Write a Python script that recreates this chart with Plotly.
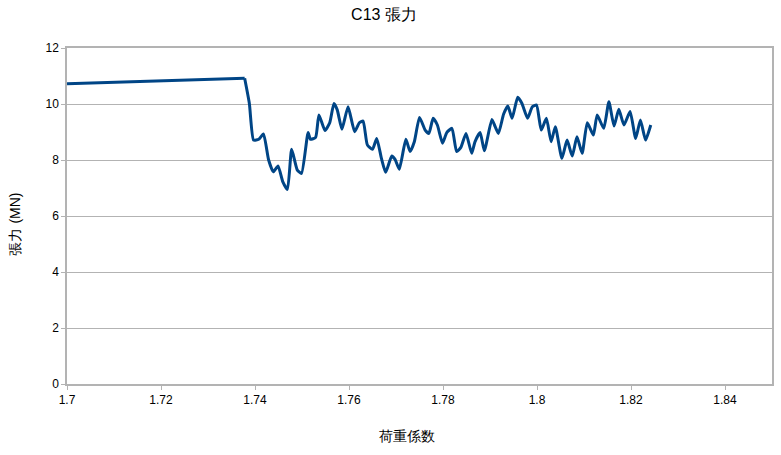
import plotly.graph_objects as go

# load factor (荷重係数) and tension (張力, MN)
load_factor = [
    1.7000, 1.7378, 1.7388, 1.7397, 1.7408, 1.7418, 1.7429, 1.7439, 1.7449,
    1.7459, 1.7469, 1.7478, 1.7490, 1.7499, 1.7513, 1.7518, 1.7529, 1.7536,
    1.7549, 1.7559, 1.7568, 1.7575, 1.7585, 1.7598, 1.7612, 1.7622, 1.7630,
    1.7639, 1.7650, 1.7659, 1.7669, 1.7678, 1.7691, 1.7698, 1.7707, 1.7721,
    1.7730, 1.7739, 1.7750, 1.7762, 1.7770, 1.7779, 1.7788, 1.7799, 1.7808,
    1.7819, 1.7829, 1.7838, 1.7849, 1.7861, 1.7868, 1.7879, 1.7888, 1.7904,
    1.7911, 1.7918, 1.7929, 1.7938, 1.7947, 1.7959, 1.7968, 1.7980, 1.7990,
    1.7999, 1.8009, 1.8020, 1.8030, 1.8039, 1.8053, 1.8064, 1.8075, 1.8085,
    1.8096, 1.8107, 1.8120, 1.8128, 1.8142, 1.8153, 1.8164, 1.8174, 1.8185,
    1.8198, 1.8210, 1.8220, 1.8231, 1.8242,
]
tension = [
    10.72, 10.92, 10.02, 8.71, 8.74, 8.93, 8.00, 7.58, 7.79,
    7.23, 6.95, 8.38, 7.64, 7.52, 8.98, 8.74, 8.81, 9.61,
    9.05, 9.33, 10.02, 9.79, 9.10, 9.90, 9.01, 9.33, 9.39,
    8.54, 8.38, 8.77, 8.06, 7.56, 8.14, 8.02, 7.67, 8.74,
    8.30, 8.65, 9.52, 9.07, 8.95, 9.49, 9.25, 8.60, 8.98,
    9.13, 8.30, 8.45, 8.95, 8.24, 8.65, 8.98, 8.33, 9.45,
    9.19, 8.95, 9.64, 9.93, 9.49, 10.24, 10.02, 9.49, 9.90,
    9.96, 9.07, 9.49, 8.65, 9.19, 8.06, 8.71, 8.14, 8.83,
    8.24, 9.33, 8.89, 9.61, 9.13, 10.08, 9.21, 9.81, 9.25,
    9.73, 8.77, 9.43, 8.71, 9.25,
]
x_ticks = [1.7, 1.72, 1.74, 1.76, 1.78, 1.8, 1.82, 1.84]
x_tick_labels = ["1.7", "1.72", "1.74", "1.76", "1.78", "1.8", "1.82", "1.84"]

W, H = 781, 455
M = dict(l=67, r=9, t=48, b=71)
LINE = "#004586"

fig = go.Figure()

# long straight lead-in, then the oscillating part drawn smoothed
fig.add_scatter(
    x=load_factor[:2],
    y=tension[:2],
    mode="lines",
    line=dict(color=LINE, width=3),
    showlegend=False,
    hoverinfo="skip"
)
fig.add_scatter(
    x=load_factor[1:],
    y=tension[1:],
    mode="lines",
    line=dict(color=LINE, width=3, shape="spline", smoothing=0.5),
    showlegend=False,
    hoverinfo="skip"
)

axis_style = dict(
    showline=True,
    linecolor="#b3b3b3",
    linewidth=1.5,
    mirror=True,
    ticks="outside",
    ticklen=4,
    tickcolor="#b3b3b3",
    zeroline=False,
    automargin=False,
    tickfont=dict(size=12, color="#000000")
)

# axis titles sit a little off-centre in the original, so place them by hand
pw = W - M["l"] - M["r"]
ph = H - M["t"] - M["b"]
fig.add_annotation(
    text="荷重係数",
    xref="paper", yref="paper",
    x=(407 - M["l"]) / pw,
    y=-(435.5 - (H - M["b"])) / ph,
    showarrow=False,
    xanchor="center", yanchor="middle",
    font=dict(size=14, color="#000000")
)
fig.add_annotation(
    text="張力 (MN)",
    xref="paper", yref="paper",
    x=-(M["l"] - 14) / pw,
    y=((H - M["b"]) - 224.5) / ph,
    textangle=-90,
    showarrow=False,
    xanchor="center", yanchor="middle",
    font=dict(size=14, color="#000000")
)

fig.update_layout(
    title=dict(
        text="C13 張力",
        x=384 / W,
        y=1 - 14 / H,
        xanchor="center",
        yanchor="middle",
        automargin=False,
        font=dict(size=16, color="#000000")
    ),
    width=W,
    height=H,
    margin=dict(M, autoexpand=False),
    paper_bgcolor="white",
    plot_bgcolor="white",
    font=dict(family="Liberation Sans, Arial, sans-serif", color="#000000"),
    xaxis=dict(
        range=[1.7, 1.85],
        tickvals=x_ticks,
        ticktext=x_tick_labels,
        showgrid=False,
        **axis_style
    ),
    yaxis=dict(
        range=[0, 12],
        dtick=2,
        showgrid=True,
        gridcolor="#b3b3b3",
        gridwidth=1,
        **axis_style
    )
)

# page body has a default 8px margin; drop it so the chart sits at 0,0
fig.write_html(
    "out.html",
    config={"displayModeBar": False},
    post_script="document.body.style.margin='0';document.body.style.overflow='hidden';"
)
